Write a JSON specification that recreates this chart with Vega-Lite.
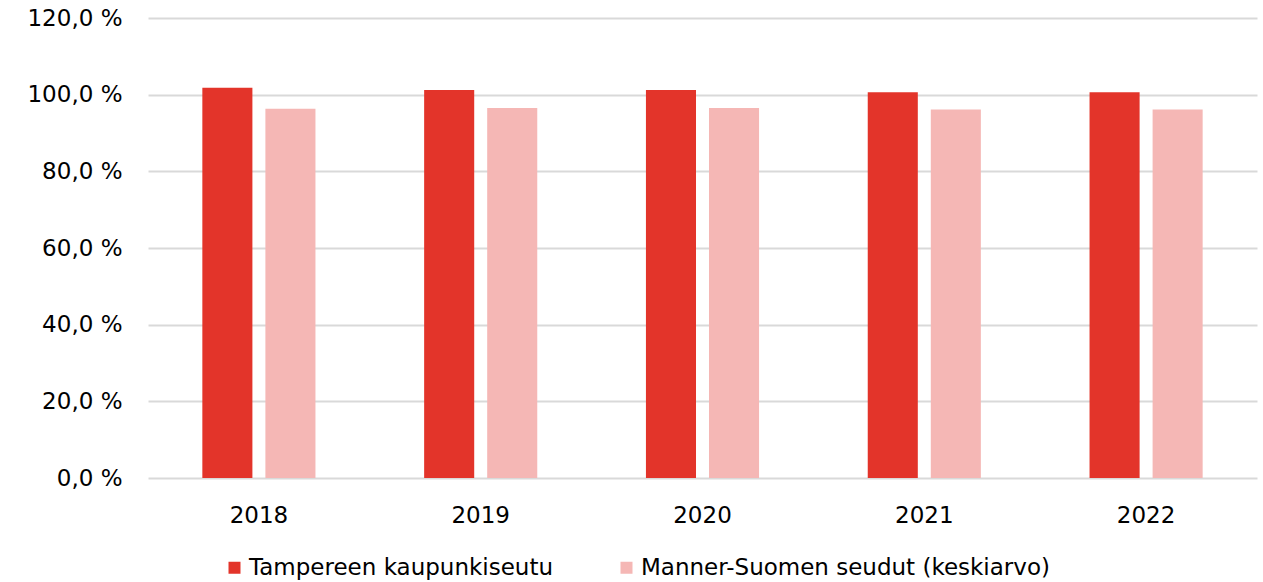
{
  "$schema": "https://vega.github.io/schema/vega-lite/v6.json",
  "autosize": {"type": "none"},
  "width": 1109,
  "height": 460,
  "padding": {"left": 148, "top": 18, "right": 6, "bottom": 104},
  "background": "white",
  "config": {"view": {"stroke": null}, "font": "DejaVu Sans"},
  "data": {"values": [
    {"vuosi": "2018", "sarja": "Tampereen kaupunkiseutu", "arvo": 101.8},
    {"vuosi": "2018", "sarja": "Manner-Suomen seudut (keskiarvo)", "arvo": 96.3},
    {"vuosi": "2019", "sarja": "Tampereen kaupunkiseutu", "arvo": 101.2},
    {"vuosi": "2019", "sarja": "Manner-Suomen seudut (keskiarvo)", "arvo": 96.5},
    {"vuosi": "2020", "sarja": "Tampereen kaupunkiseutu", "arvo": 101.2},
    {"vuosi": "2020", "sarja": "Manner-Suomen seudut (keskiarvo)", "arvo": 96.5},
    {"vuosi": "2021", "sarja": "Tampereen kaupunkiseutu", "arvo": 100.6},
    {"vuosi": "2021", "sarja": "Manner-Suomen seudut (keskiarvo)", "arvo": 96.1},
    {"vuosi": "2022", "sarja": "Tampereen kaupunkiseutu", "arvo": 100.6},
    {"vuosi": "2022", "sarja": "Manner-Suomen seudut (keskiarvo)", "arvo": 96.1}
  ]},
  "mark": {"type": "bar"},
  "encoding": {
    "x": {
      "field": "vuosi", "type": "nominal",
      "scale": {"paddingInner": 0.49, "paddingOuter": 0.245},
      "axis": {"title": null, "labelAngle": 0, "labelFontSize": 23, "labelColor": "#000000", "labelPadding": 26, "domain": false, "ticks": false, "grid": false}
    },
    "xOffset": {
      "field": "sarja", "type": "nominal",
      "sort": ["Tampereen kaupunkiseutu", "Manner-Suomen seudut (keskiarvo)"],
      "scale": {"paddingInner": 0.206, "paddingOuter": 0}
    },
    "y": {
      "field": "arvo", "type": "quantitative",
      "scale": {"domain": [0, 120], "nice": false},
      "axis": {
        "title": null, "values": [0, 20, 40, 60, 80, 100, 120],
        "labelExpr": "replace(format(datum.value, '.1f'), '.', ',') + ' %'",
        "labelFontSize": 23, "labelColor": "#000000", "labelPadding": 26,
        "domain": false, "ticks": false,
        "gridColor": "#d9d9d9", "gridWidth": 2
      }
    },
    "color": {
      "field": "sarja", "type": "nominal",
      "sort": ["Tampereen kaupunkiseutu", "Manner-Suomen seudut (keskiarvo)"],
      "scale": {"domain": ["Tampereen kaupunkiseutu", "Manner-Suomen seudut (keskiarvo)"], "range": ["#E3342A", "#F5B7B5"]},
      "legend": {
        "title": null, "orient": "none", "direction": "horizontal",
        "legendX": 75, "legendY": 538,
        "symbolType": "square", "symbolSize": 144, "symbolStrokeWidth": 0,
        "labelFontSize": 23, "labelColor": "#000000", "labelLimit": 600,
        "columnPadding": 62, "labelOffset": 3
      }
    }
  }
}
